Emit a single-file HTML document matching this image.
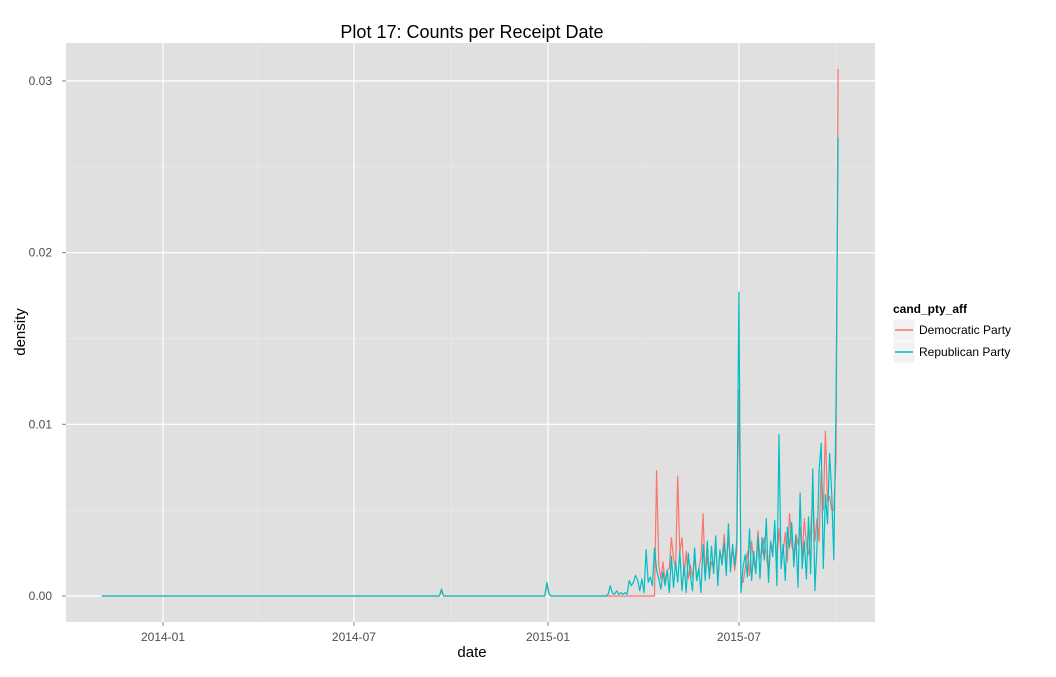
<!DOCTYPE html>
<html><head><meta charset="utf-8"><style>
body{margin:0;background:#fff;font-family:"Liberation Sans",sans-serif}
</style></head><body>
<svg id="c" width="1056" height="672" xmlns="http://www.w3.org/2000/svg" font-family="Liberation Sans, sans-serif"></svg>
<script>
const yTicks=[0,0.01,0.02,0.03];
const yTickLabels=["0.00","0.01","0.02","0.03"];
const xTickDays=[0,181,365,546];
const xTickLabels=["2014-01","2014-07","2015-01","2015-07"];
const earlyDays=[-58,262,264,266,362,364,366,368,418];
const earlyDem=[0,0,0.3,0,0,0.7,0.1,0,0];
const earlyRep=[0,0,0.4,0,0,0.8,0.1,0,0];
const repVals=[0,0.1,0.6,0.2,0.1,0.3,0.1,0.2,0.1,0.2,
0.1,0.9,0.6,0.8,1.2,0.9,0.3,1.0,0.2,2.7,
0.8,1.1,0.6,2.8,1.5,1.0,0.4,1.4,0.6,1.5,
0.2,2.3,0.5,2.0,0.8,2.6,0.3,1.8,0.2,2.5,
1.2,0.3,2.8,0.9,1.6,0.2,3.0,0.9,3.2,1.0,
2.9,1.3,3.5,0.6,2.7,1.8,3.1,1.2,4.2,1.4,
3.0,1.8,3.2,17.7,0.2,1.7,2.4,1.1,3.9,0.9,
2.6,1.3,3.5,1.0,3.4,2.1,4.5,0.8,3.2,2.3,
4.4,0.6,9.4,1.6,3.0,0.9,4.0,2.8,4.3,1.7,
3.5,0.5,6.0,1.6,3.2,1.0,4.6,1.3,7.4,0.3,
2.9,7.3,8.9,1.6,5.9,4.2,8.3,6.0,2.1,11.0,26.7];
const demVals=[0,0,0,0,0,0,0,0,0,0,0,0,0,0,0,0,0,0,0,0,0,0,0,0,
7.3,1.8,1.0,2.0,0.8,1.5,
1.6,3.4,2.2,1.6,7.0,2.5,3.4,1.2,2.6,1.0,
1.8,1.1,2.3,0.9,1.6,2.2,4.8,1.0,2.3,1.2,
2.0,1.6,3.0,1.0,2.5,2.1,3.6,1.8,3.4,2.0,
2.8,1.5,2.6,12,1.0,0.8,1.6,2.6,1.2,3.2,
2.0,1.4,3.8,2.2,2.5,3.4,2.3,1.5,3.0,2.8,
3.8,2.0,3.9,2.5,2.6,3.7,2.0,4.8,3.0,2.4,
3.6,3.0,4.0,2.2,4.5,3.0,2.4,3.8,5.9,3.2,
4.5,3.2,7.3,5.0,9.6,5.5,5.8,5.0,5.0,8.0,30.7];
const activeStart=420, activeStep=2;

const svg=document.getElementById('c');
const NS="http://www.w3.org/2000/svg";
const P={l:66,r:875,t:43,b:622};
const xs=d=>163+d*(385/365);
const ys=v=>596-v*17170;
function mk(tag,attrs,parent){const e=document.createElementNS(NS,tag);for(const k in attrs)e.setAttribute(k,attrs[k]);(parent||svg).appendChild(e);return e;}
let e;
e=mk('rect',{x:P.l,y:P.t,width:P.r-P.l,height:P.b-P.t,fill:'#e0e0e0'});


[-0.005,0.005,0.015,0.025].forEach(v=>{if(ys(v)<P.b){const l=mk('line',{x1:P.l,x2:P.r,y1:ys(v),y2:ys(v),stroke:'#ececec','stroke-width':0.6});}});
[-92,90,273,455,638].forEach(d=>{const x=xs(d);if(x>P.l){const l=mk('line',{x1:x,x2:x,y1:P.t,y2:P.b,stroke:'#ececec','stroke-width':0.6});}});
yTicks.forEach((v,i)=>{
 const l=mk('line',{x1:P.l,x2:P.r,y1:ys(v),y2:ys(v),stroke:'#fff','stroke-width':1.2});
 
 
 const t=mk('text',{x:52,y:ys(v)+4,'text-anchor':'end','font-size':12,fill:'#4d4d4d'});t.textContent=yTickLabels[i];
 
 
 mk('line',{x1:P.l-4,x2:P.l,y1:ys(v),y2:ys(v),stroke:'#7f7f7f'});
});
xTickDays.forEach((d,i)=>{
 const l=mk('line',{x1:xs(d),x2:xs(d),y1:P.t,y2:P.b,stroke:'#fff','stroke-width':1.2});
 
 
 mk('line',{x1:xs(d),x2:xs(d),y1:P.b,y2:P.b+4,stroke:'#7f7f7f'});
 const t=mk('text',{x:xs(d),y:641,'text-anchor':'middle','font-size':12,fill:'#4d4d4d'});t.textContent=xTickLabels[i];
 
 
});
function series(early,vals,color,name){
 const pts=[];
 earlyDays.forEach((d,i)=>pts.push([xs(d),ys(early[i]/1000)]));
 vals.forEach((v,i)=>pts.push([xs(activeStart+i*activeStep),ys(v/1000)]));
 const p=mk('polyline',{points:pts.map(p=>p[0].toFixed(1)+','+p[1].toFixed(1)).join(' '),fill:'none',stroke:color,'stroke-width':1.2,'stroke-linejoin':'round'});
 
 
}
series(earlyDem,demVals,'#F8766D','democratic-party-line');
series(earlyRep,repVals,'#00BFC4','republican-party-line');
e=mk('text',{x:472,y:38,'text-anchor':'middle','font-size':18,fill:'#000'});e.textContent='Plot 17: Counts per Receipt Date';


e=mk('text',{x:472,y:657,'text-anchor':'middle','font-size':15,fill:'#000'});e.textContent='date';


e=mk('text',{x:0,y:0,'text-anchor':'middle','font-size':15,fill:'#000',transform:'translate(25,332) rotate(-90)'});e.textContent='density';


e=mk('text',{x:893,y:313,'font-size':12,'font-weight':'bold',fill:'#000'});e.textContent='cand_pty_aff';


[['Democratic Party','#F8766D',330],['Republican Party','#00BFC4',352]].forEach(([lab,c,y])=>{
 const g=mk('g',{});
 
 
 mk('rect',{x:893,y:y-11,width:22,height:22,fill:'#f2f2f2',stroke:'#fff'},g);
 mk('line',{x1:895,x2:913,y1:y,y2:y,stroke:c,'stroke-width':1.5},g);
 const t=mk('text',{x:919,y:y+4,'font-size':12,fill:'#000'},g);t.textContent=lab;
});
</script>
</body></html>
